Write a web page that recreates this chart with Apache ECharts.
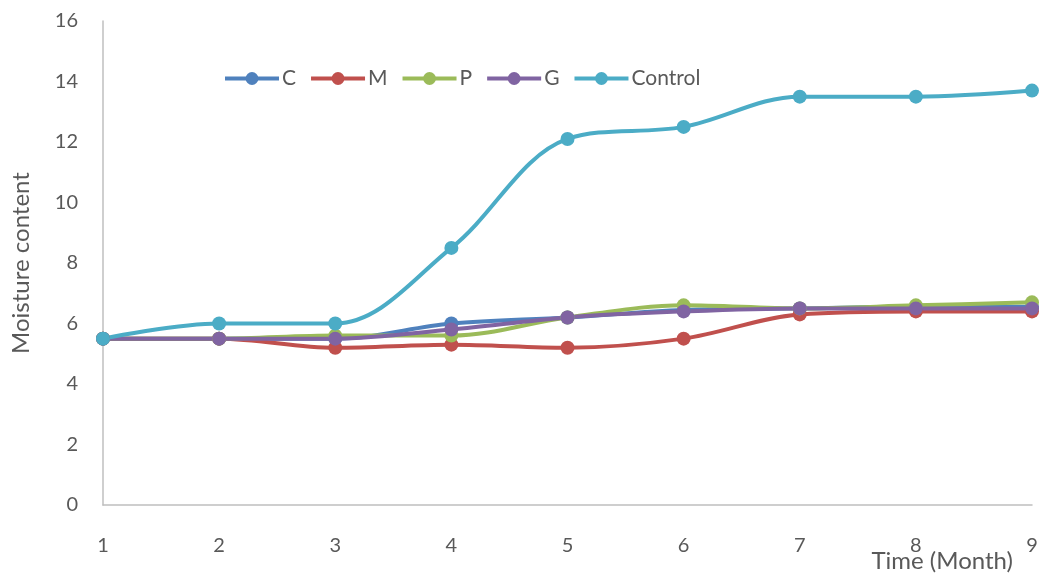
<!DOCTYPE html>
<html>
<head>
<meta charset="utf-8">
<script src="https://cdn.jsdelivr.net/npm/echarts@6/dist/echarts.min.js"></script>
<style>
  html, body { margin: 0; padding: 0; background: #fff; }
  #chart { width: 1042px; height: 577px; }
</style>
</head>
<body>
<div id="chart"></div>
<script>
// Months on the x axis
const months = ['1', '2', '3', '4', '5', '6', '7', '8', '9'];

// Moisture content per treatment
const seriesC       = [5.5, 5.5, 5.5, 6.0, 6.2, 6.45, 6.5, 6.55, 6.55];
const seriesM       = [5.5, 5.5, 5.2, 5.3, 5.2, 5.5, 6.3, 6.4, 6.4];
const seriesP       = [5.5, 5.5, 5.6, 5.6, 6.2, 6.6, 6.5, 6.6, 6.7];
const seriesG       = [5.5, 5.5, 5.5, 5.8, 6.2, 6.4, 6.5, 6.5, 6.5];
const seriesControl = [5.5, 6.0, 6.0, 8.5, 12.1, 12.5, 13.5, 13.5, 13.7];

const seriesNames = ['C', 'M', 'P', 'G', 'Control'];
const seriesData = [seriesC, seriesM, seriesP, seriesG, seriesControl];
const colors = ['#4F81BD', '#C0504D', '#9BBB59', '#8064A2', '#4BACC6'];

const fontFamily = 'Lato, "Open Sans", sans-serif';
const textColor = '#595959';

const chart = echarts.init(document.getElementById('chart'));
chart.setOption({
  animation: false,
  color: colors,
  textStyle: { fontFamily: fontFamily },
  grid: { left: 103, right: 10, top: 21, bottom: 72, containLabel: false, outerBoundsMode: 'none' },
  legend: {
    left: 218,
    top: 63,
    itemWidth: 54,
    itemHeight: 16,
    itemGap: 13,
    lineStyle: { width: 4 },
    textStyle: { fontSize: 21, color: textColor, fontFamily: fontFamily, padding: [0, 0, 0, -2] },
    data: seriesNames
  },
  xAxis: {
    type: 'category',
    data: months,
    boundaryGap: false,
    axisLine: { lineStyle: { color: '#BFBFBF', width: 1.5 } },
    axisTick: { show: false },
    axisLabel: { color: textColor, fontSize: 20, margin: 31 },
    splitLine: { show: false }
  },
  yAxis: {
    type: 'value',
    min: 0,
    max: 16,
    interval: 2,
    axisLine: { show: true, lineStyle: { color: '#BFBFBF', width: 1.5 } },
    axisTick: { show: false },
    axisLabel: { color: textColor, fontSize: 20, margin: 25 },
    splitLine: { show: false },
    name: 'Moisture content',
    nameLocation: 'middle',
    nameGap: 70,
    nameTextStyle: { color: textColor, fontSize: 24 }
  },
  // x axis title sits under the right end of the axis
  graphic: [{
    type: 'text',
    right: 29,
    top: 549,
    style: { text: 'Time (Month)', fill: textColor, font: '24px ' + fontFamily }
  }],
  series: seriesNames.map((name, i) => ({
    name: name,
    type: 'line',
    data: seriesData[i],
    smooth: 0.35,
    symbol: 'circle',
    symbolSize: 14,
    lineStyle: { width: 4, color: colors[i] },
    itemStyle: { color: colors[i] }
  }))
});
</script>
</body>
</html>
